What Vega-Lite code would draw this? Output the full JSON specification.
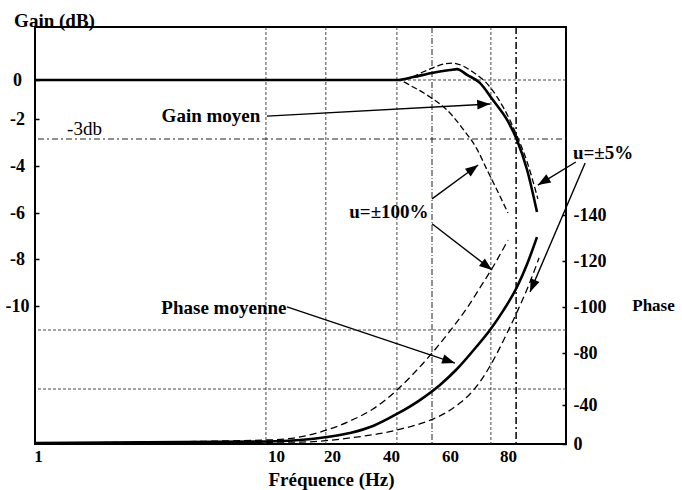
{
  "$schema": "https://vega.github.io/schema/vega-lite/v6.json",
  "width": 531,
  "height": 417,
  "autosize": "none",
  "padding": {"left": 35, "top": 27, "right": 116, "bottom": 46},
  "background": "white",
  "config": {
    "view": {"stroke": "black", "strokeWidth": 2},
    "font": "Liberation Serif",
    "axis": {
      "labelFont": "Liberation Serif", "labelFontWeight": "bold", "labelFontSize": 18, "labelColor": "black",
      "titleFont": "Liberation Serif", "titleFontWeight": "bold", "titleFontSize": 19, "titleColor": "black",
      "grid": false, "domain": false, "tickColor": "black", "tickWidth": 1.5
    }
  },
  "datasets": {
    "gain": [
      {"f": 0.89, "g": 0, "s": "moyen"}, {"f": 9.59, "g": 0, "s": "moyen"}, {"f": 18.75, "g": 0, "s": "moyen"},
      {"f": 36.3, "g": 0, "s": "moyen"}, {"f": 42, "g": 0, "s": "moyen"}, {"f": 47.5, "g": 0.15, "s": "moyen"},
      {"f": 53.9, "g": 0.36, "s": "moyen"}, {"f": 60, "g": 0.51, "s": "moyen"}, {"f": 62.4, "g": 0.56, "s": "moyen"},
      {"f": 65.9, "g": 0.26, "s": "moyen"}, {"f": 70.3, "g": -0.15, "s": "moyen"}, {"f": 74.8, "g": -1.03, "s": "moyen"},
      {"f": 79.7, "g": -2.04, "s": "moyen"}, {"f": 83.1, "g": -2.89, "s": "moyen"}, {"f": 86.6, "g": -4.17, "s": "moyen"},
      {"f": 90, "g": -5.96, "s": "moyen"},
      {"f": 0.89, "g": 0, "s": "haut"}, {"f": 42, "g": 0, "s": "haut"}, {"f": 46.4, "g": 0.1, "s": "haut"},
      {"f": 50.8, "g": 0.41, "s": "haut"}, {"f": 60.7, "g": 0.87, "s": "haut"}, {"f": 67.9, "g": 0.41, "s": "haut"},
      {"f": 73.8, "g": -0.36, "s": "haut"}, {"f": 78.3, "g": -1.38, "s": "haut"}, {"f": 83.1, "g": -2.72, "s": "haut"},
      {"f": 86.6, "g": -3.83, "s": "haut"}, {"f": 90.3, "g": -5.4, "s": "haut"},
      {"f": 0.89, "g": 0, "s": "bas"}, {"f": 42, "g": 0, "s": "bas"}, {"f": 47.5, "g": -0.36, "s": "bas"},
      {"f": 53.2, "g": -0.87, "s": "bas"}, {"f": 59, "g": -1.54, "s": "bas"}, {"f": 64.5, "g": -2.43, "s": "bas"},
      {"f": 69.3, "g": -3.28, "s": "bas"}, {"f": 72.8, "g": -4.17, "s": "bas"}, {"f": 76.2, "g": -5.02, "s": "bas"},
      {"f": 80, "g": -6.0, "s": "bas"}
    ],
    "phase": [
      {"f": 0.89, "p": -1, "s": "moyen"}, {"f": 9.66, "p": -2.5, "s": "moyen"}, {"f": 14.3, "p": -4.1, "s": "moyen"},
      {"f": 19.1, "p": -7.2, "s": "moyen"}, {"f": 26.1, "p": -11.3, "s": "moyen"}, {"f": 33.9, "p": -18.5, "s": "moyen"},
      {"f": 42, "p": -30.8, "s": "moyen"}, {"f": 49.8, "p": -43.8, "s": "moyen"}, {"f": 56.6, "p": -55.4, "s": "moyen"},
      {"f": 62.4, "p": -67.7, "s": "moyen"}, {"f": 69.3, "p": -83.0, "s": "moyen"}, {"f": 73.8, "p": -90, "s": "moyen"},
      {"f": 78.3, "p": -98.3, "s": "moyen"}, {"f": 83.1, "p": -108.7, "s": "moyen"}, {"f": 86.6, "p": -118.7, "s": "moyen"},
      {"f": 90, "p": -130.4, "s": "moyen"},
      {"f": 0.89, "p": -1, "s": "haut"}, {"f": 9.66, "p": -4.1, "s": "haut"}, {"f": 14.3, "p": -7.2, "s": "haut"},
      {"f": 19.1, "p": -14.4, "s": "haut"}, {"f": 26.1, "p": -23.6, "s": "haut"}, {"f": 33.9, "p": -35.9, "s": "haut"},
      {"f": 42, "p": -51.5, "s": "haut"}, {"f": 47.5, "p": -63.8, "s": "haut"}, {"f": 54.2, "p": -80.4, "s": "haut"},
      {"f": 60, "p": -89.6, "s": "haut"}, {"f": 65.9, "p": -99.6, "s": "haut"}, {"f": 70.3, "p": -108.3, "s": "haut"},
      {"f": 74.8, "p": -117.4, "s": "haut"}, {"f": 80, "p": -129.1, "s": "haut"},
      {"f": 0.89, "p": -1, "s": "bas"}, {"f": 14.3, "p": -2, "s": "bas"}, {"f": 26.1, "p": -6.2, "s": "bas"},
      {"f": 42, "p": -14.4, "s": "bas"}, {"f": 54.2, "p": -25.6, "s": "bas"}, {"f": 59, "p": -32.8, "s": "bas"},
      {"f": 63.4, "p": -41.5, "s": "bas"}, {"f": 66.9, "p": -48.5, "s": "bas"}, {"f": 70.3, "p": -57.7, "s": "bas"},
      {"f": 73.8, "p": -70, "s": "bas"}, {"f": 79.7, "p": -88.7, "s": "bas"}, {"f": 83.1, "p": -97.8, "s": "bas"},
      {"f": 86.6, "p": -107.8, "s": "bas"}, {"f": 90.7, "p": -121.3, "s": "bas"}
    ],
    "arrows": [
      {"f": 9.66, "g": -1.85, "f2": 73.8, "g2": -1.23},
      {"f": 53.9, "g": -5.4, "f2": 69.7, "g2": -3.96},
      {"f": 53.9, "g": -6.47, "f2": 74.5, "g2": -8.47},
      {"f": 103.4, "g": -3.83, "f2": 90.3, "g2": -4.81},
      {"f": 106.6, "g": -3.87, "f2": 87.6, "g2": -9.4},
      {"f": 11.96, "g": -10.04, "f2": 61.7, "g2": -12.43}
    ]
  },
  "encoding": {
    "x": {
      "field": "f", "type": "quantitative",
      "scale": {"type": "linear", "domain": [1, 10, 20, 40, 60, 80, 100], "range": [3, 241, 297, 356, 415, 473, 531], "nice": false, "zero": false},
      "axis": {
        "title": "Fréquence (Hz)", "values": [1, 10, 20, 40, 60, 80], "ticks": false, "labelPadding": 4,
        "labelFontSize": 17,
        "labelFlush": false, "labelExpr": "'' + datum.value",
        "titleX": 296, "titleY": 35, "titleAlign": "center", "titleBaseline": "middle", "titleFontSize": 19
      }
    }
  },
  "layer": [
    {
      "data": {"values": [{"f": 9.62}, {"f": 18.9}, {"f": 42.0}, {"f": 74.1}]},
      "mark": {"type": "rule", "color": "#333", "strokeWidth": 0.9, "strokeDash": [3, 2]}
    },
    {
      "data": {"values": [{"f": 53.9}]},
      "mark": {"type": "rule", "color": "#222", "strokeWidth": 1, "strokeDash": [6, 2, 1, 2]}
    },
    {
      "data": {"values": [{"f": 82.8}]},
      "mark": {"type": "rule", "color": "#111", "strokeWidth": 1.6, "strokeDash": [7, 3, 2, 3]}
    },
    {
      "encoding": {
        "y": {
          "field": "g", "type": "quantitative",
          "scale": {"type": "linear", "domain": [0, -2, -4, -6, -8, -10], "range": [53, 92, 139, 186, 232, 279], "nice": false, "zero": false},
          "axis": {
            "title": "Gain (dB)", "orient": "left", "values": [0, -2, -4, -6, -8, -10],
            "labelExpr": "'' + datum.value", "labelAlign": "center", "labelBaseline": "middle",
            "tickSize": -4, "labelPadding": 22,
            "titleAngle": 0, "titleX": 19, "titleY": -7, "titleAlign": "center", "titleBaseline": "middle"
          }
        }
      },
      "layer": [
        {
          "data": {"values": [{"f": 1, "f2": 100, "g": 0}]},
          "mark": {"type": "rule", "color": "#333", "strokeWidth": 0.9, "strokeDash": [3, 2]},
          "encoding": {"x2": {"field": "f2"}}
        },
        {
          "data": {"values": [{"f": 1, "f2": 100, "g": -2.85}]},
          "mark": {"type": "rule", "color": "#222", "strokeWidth": 1.2, "strokeDash": [6, 3, 2, 3]},
          "encoding": {"x2": {"field": "f2"}}
        },
        {
          "data": {"name": "gain"},
          "transform": [{"filter": "datum.s !== 'moyen'"}],
          "mark": {"type": "line", "color": "black", "strokeWidth": 1.3, "strokeDash": [6, 3], "interpolate": "monotone"},
          "encoding": {"detail": {"field": "s"}}
        },
        {
          "data": {"name": "gain"},
          "transform": [{"filter": "datum.s === 'moyen'"}],
          "mark": {"type": "line", "color": "black", "strokeWidth": 2.6, "interpolate": "monotone"}
        },
        {
          "data": {"name": "arrows"},
          "mark": {"type": "rule", "color": "black", "strokeWidth": 1.4},
          "encoding": {"x2": {"field": "f2"}, "y2": {"field": "g2"}}
        },
        {
          "data": {"values": [{"f": 73.8, "g": -1.23}]},
          "mark": {"type": "point", "shape": "M0,0L0.6,1.6L-0.6,1.6Z", "angle": 87, "size": 256, "filled": true, "color": "black", "opacity": 1}
        },
        {
          "data": {"values": [{"f": 69.7, "g": -3.96}]},
          "mark": {"type": "point", "shape": "M0,0L0.6,1.6L-0.6,1.6Z", "angle": 53.5, "size": 256, "filled": true, "color": "black", "opacity": 1}
        },
        {
          "data": {"values": [{"f": 74.5, "g": -8.47}]},
          "mark": {"type": "point", "shape": "M0,0L0.6,1.6L-0.6,1.6Z", "angle": 127.5, "size": 256, "filled": true, "color": "black", "opacity": 1}
        },
        {
          "data": {"values": [{"f": 90.3, "g": -4.81}]},
          "mark": {"type": "point", "shape": "M0,0L0.6,1.6L-0.6,1.6Z", "angle": 238.8, "size": 256, "filled": true, "color": "black", "opacity": 1}
        },
        {
          "data": {"values": [{"f": 87.6, "g": -9.4}]},
          "mark": {"type": "point", "shape": "M0,0L0.6,1.6L-0.6,1.6Z", "angle": 203.1, "size": 256, "filled": true, "color": "black", "opacity": 1}
        },
        {
          "data": {"values": [{"f": 61.7, "g": -12.43}]},
          "mark": {"type": "point", "shape": "M0,0L0.6,1.6L-0.6,1.6Z", "angle": 108.4, "size": 256, "filled": true, "color": "black", "opacity": 1}
        },
        {
          "data": {"values": [
            {"f": 7.54, "g": -1.85, "t": "Gain moyen"},
            {"f": 39.3, "g": -5.96, "t": "u=±100%"},
            {"f": 112.8, "g": -3.45, "t": "u=±5%"},
            {"f": 8.03, "g": -10.09, "t": "Phase moyenne"}
          ]},
          "mark": {"type": "text", "font": "Liberation Serif", "fontWeight": "bold", "fontSize": 19, "color": "black", "align": "center", "baseline": "middle"},
          "encoding": {"text": {"field": "t"}}
        },
        {
          "data": {"values": [{"f": 2.1, "g": -2.43, "t": "-3db"}]},
          "mark": {"type": "text", "font": "Liberation Serif", "fontSize": 19, "color": "black", "align": "left", "baseline": "middle"},
          "encoding": {"text": {"field": "t"}}
        }
      ]
    },
    {
      "encoding": {
        "y": {
          "field": "p", "type": "quantitative",
          "scale": {"type": "linear", "domain": [0, -40, -80, -100, -120, -140], "range": [417, 378, 326, 280, 234, 188], "nice": false, "zero": false},
          "axis": {
            "title": "Phase", "orient": "right", "values": [0, -40, -80, -100, -120, -140],
            "labelExpr": "'' + datum.value", "labelAlign": "left", "labelBaseline": "middle",
            "tickSize": -4, "labelPadding": 11,
            "titleAngle": 0, "titleX": 87, "titleY": 278, "titleAlign": "center", "titleBaseline": "middle", "titleFontSize": 17
          }
        }
      },
      "layer": [
        {
          "data": {"values": [{"f": 1, "f2": 100, "p": -90}, {"f": 1, "f2": 100, "p": -52.3}]},
          "mark": {"type": "rule", "color": "#333", "strokeWidth": 0.9, "strokeDash": [3, 2]},
          "encoding": {"x2": {"field": "f2"}}
        },
        {
          "data": {"name": "phase"},
          "transform": [{"filter": "datum.s !== 'moyen'"}],
          "mark": {"type": "line", "color": "black", "strokeWidth": 1.3, "strokeDash": [7, 4], "interpolate": "monotone"},
          "encoding": {"detail": {"field": "s"}}
        },
        {
          "data": {"name": "phase"},
          "transform": [{"filter": "datum.s === 'moyen'"}],
          "mark": {"type": "line", "color": "black", "strokeWidth": 2.6, "interpolate": "monotone"}
        }
      ]
    }
  ],
  "resolve": {"scale": {"y": "independent"}, "axis": {"y": "independent"}}
}
